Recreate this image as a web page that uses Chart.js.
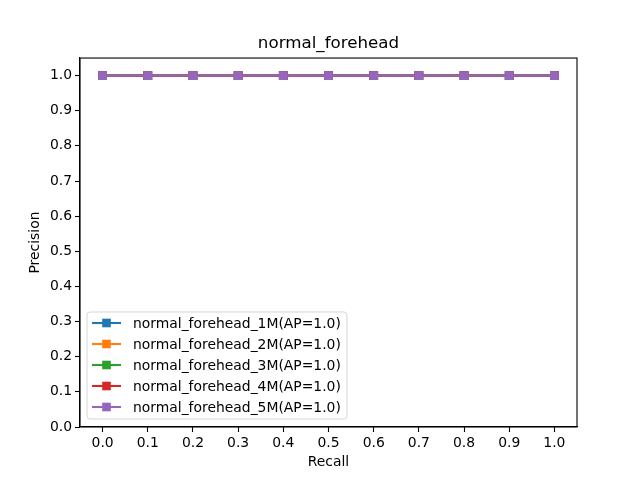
<!DOCTYPE html>
<html>
<head>
<meta charset="utf-8">
<script src="https://cdn.jsdelivr.net/npm/chart.js@4/dist/chart.umd.min.js"></script>
<style>
html,body{margin:0;padding:0;background:#fff;}
canvas{display:block;}
</style>
</head>
<body>
<canvas id="c" width="640" height="480"></canvas>
<script>
const recall = [0.0, 0.1, 0.2, 0.3, 0.4, 0.5, 0.6, 0.7, 0.8, 0.9, 1.0];
const precision1M = [1.0, 1.0, 1.0, 1.0, 1.0, 1.0, 1.0, 1.0, 1.0, 1.0, 1.0];
const precision2M = [1.0, 1.0, 1.0, 1.0, 1.0, 1.0, 1.0, 1.0, 1.0, 1.0, 1.0];
const precision3M = [1.0, 1.0, 1.0, 1.0, 1.0, 1.0, 1.0, 1.0, 1.0, 1.0, 1.0];
const precision4M = [1.0, 1.0, 1.0, 1.0, 1.0, 1.0, 1.0, 1.0, 1.0, 1.0, 1.0];
const precision5M = [1.0, 1.0, 1.0, 1.0, 1.0, 1.0, 1.0, 1.0, 1.0, 1.0, 1.0];
const seriesNames = [
  'normal_forehead_1M(AP=1.0)',
  'normal_forehead_2M(AP=1.0)',
  'normal_forehead_3M(AP=1.0)',
  'normal_forehead_4M(AP=1.0)',
  'normal_forehead_5M(AP=1.0)'
];
const seriesValues = [precision1M, precision2M, precision3M, precision4M, precision5M];
const colors = ['#1f77b4', '#ff7f0e', '#2ca02c', '#d62728', '#9467bd'];
const xTickValues = [0.0, 0.1, 0.2, 0.3, 0.4, 0.5, 0.6, 0.7, 0.8, 0.9, 1.0];
const yTickValues = [0.0, 0.1, 0.2, 0.3, 0.4, 0.5, 0.6, 0.7, 0.8, 0.9, 1.0];
const titleText = 'normal_forehead';
const xLabel = 'Recall';
const yLabel = 'Precision';

const FONT = 'DejaVu Sans';
const FS = 13.9;

const datasets = seriesNames.map((name, i) => ({
  label: name,
  data: recall.map((r, j) => ({x: r, y: seriesValues[i][j]})),
  borderColor: colors[i],
  backgroundColor: colors[i],
  borderWidth: 2.1,
  pointStyle: 'rect',
  pointRadius: 6.2,
  pointHoverRadius: 6.2,
  pointBorderWidth: 0,
  tension: 0,
  order: seriesNames.length - 1 - i
}));

const frameAndLegend = {
  id: 'frameAndLegend',
  afterDraw(chart) {
    const ctx = chart.ctx;
    const a = chart.chartArea;
    ctx.save();
    // spines
    ctx.strokeStyle = '#000';
    ctx.lineWidth = 1.1;
    ctx.strokeRect(a.left, a.top, a.right - a.left, a.bottom - a.top);
    // legend box
    const bx = a.left + 7, by = a.bottom - 115, bw = 260, bh = 107, rad = 3;
    ctx.globalAlpha = 0.8;
    ctx.beginPath();
    ctx.moveTo(bx + rad, by);
    ctx.lineTo(bx + bw - rad, by);
    ctx.arcTo(bx + bw, by, bx + bw, by + rad, rad);
    ctx.lineTo(bx + bw, by + bh - rad);
    ctx.arcTo(bx + bw, by + bh, bx + bw - rad, by + bh, rad);
    ctx.lineTo(bx + rad, by + bh);
    ctx.arcTo(bx, by + bh, bx, by + bh - rad, rad);
    ctx.lineTo(bx, by + rad);
    ctx.arcTo(bx, by, bx + rad, by, rad);
    ctx.closePath();
    ctx.fillStyle = '#ffffff';
    ctx.fill();
    ctx.strokeStyle = '#cccccc';
    ctx.lineWidth = 1;
    ctx.stroke();
    ctx.globalAlpha = 1;
    ctx.font = FS + 'px "' + FONT + '"';
    ctx.textBaseline = 'middle';
    ctx.textAlign = 'left';
    chart.data.datasets.forEach((ds, i) => {
      const cy = by + 11 + i * 21;
      ctx.strokeStyle = ds.borderColor;
      ctx.lineWidth = 2.1;
      ctx.beginPath();
      ctx.moveTo(bx + 5, cy);
      ctx.lineTo(bx + 34, cy);
      ctx.stroke();
      ctx.fillStyle = ds.backgroundColor;
      ctx.fillRect(bx + 19.5 - 4.3, cy - 4.3, 8.6, 8.6);
      ctx.fillStyle = '#000';
      ctx.fillText(ds.label, bx + 46, cy + 1);
    });
    ctx.restore();
  }
};

new Chart(document.getElementById('c'), {
  type: 'line',
  data: { datasets },
  options: {
    responsive: false,
    animation: false,
    devicePixelRatio: 1,
    layout: { padding: { left: 0, right: 63, top: 0, bottom: 0 } },
    plugins: {
      legend: { display: false },
      tooltip: { enabled: false },
      title: {
        display: true,
        fullSize: false,
        text: titleText,
        color: '#000',
        font: { family: FONT, size: 16.7, weight: 'normal', lineHeight: 1.2 },
        padding: { top: 34, bottom: 4 }
      }
    },
    scales: {
      x: {
        type: 'linear',
        min: -0.05,
        max: 1.05,
        afterBuildTicks: s => { s.ticks = xTickValues.map(v => ({ value: v })); },
        afterFit: s => { s.height = 53; },
        ticks: {
          color: '#000',
          font: { family: FONT, size: FS },
          padding: 3,
          maxRotation: 0,
          autoSkip: false,
          callback: v => Number(v).toFixed(1)
        },
        grid: { display: true, drawOnChartArea: false, drawTicks: true, tickLength: 5, tickWidth: 1.1, tickColor: '#000' },
        border: { display: true, color: '#000', width: 1.1 },
        title: {
          display: true,
          text: xLabel,
          color: '#000',
          font: { family: FONT, size: FS, lineHeight: 1.2 },
          padding: { top: 0, bottom: 9.7 }
        }
      },
      y: {
        type: 'linear',
        min: 0,
        max: 1.05,
        afterBuildTicks: s => { s.ticks = yTickValues.map(v => ({ value: v })); },
        afterFit: s => { s.width = 80; },
        ticks: {
          color: '#000',
          font: { family: FONT, size: FS },
          padding: 3,
          autoSkip: false,
          callback: v => Number(v).toFixed(1)
        },
        grid: { display: true, drawOnChartArea: false, drawTicks: true, tickLength: 5, tickWidth: 1.1, tickColor: '#000' },
        border: { display: true, color: '#000', width: 1.1 },
        title: {
          display: true,
          text: yLabel,
          color: '#000',
          font: { family: FONT, size: FS, lineHeight: 1.2 },
          padding: { top: 26.7, bottom: 0 }
        }
      }
    }
  },
  plugins: [frameAndLegend]
});
</script>
</body>
</html>
